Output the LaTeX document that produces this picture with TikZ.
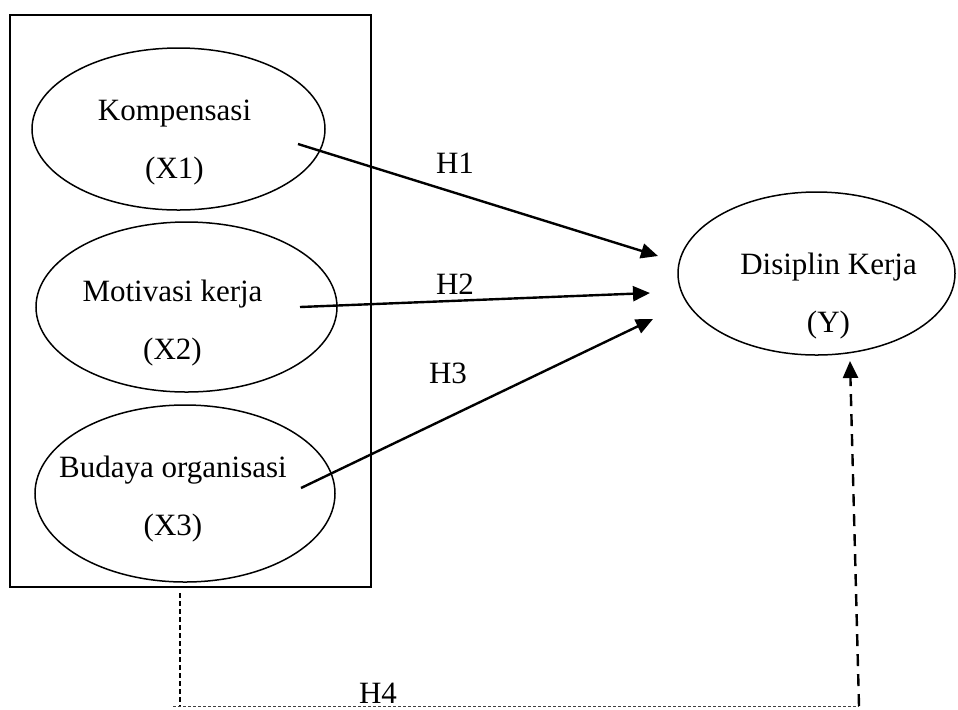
\documentclass[tikz,border=0pt]{standalone}
\usepackage{fontspec}
\setmainfont{Liberation Serif}
\usetikzlibrary{arrows.meta,positioning,shapes}
\tikzset{
model/.style={x=0.5pt,y=-0.5pt,font=\fontsize{15.5}{29}\selectfont},
variabel/.style={ellipse,draw,line width=0.75pt,inner sep=0pt},
teks/.style={align=center,inner sep=0pt},
hipotesis/.style={-{Triangle[length=8.5pt,width=7.5pt]},line width=1.2pt},
garis putus/.style={dash pattern=on 2.5pt off 1.5pt,line width=0.6pt},
garis bawah/.style={dash pattern=on 1.5pt off 1pt,line width=0.45pt,black!75},
panah putus/.style={-{Triangle[length=8.5pt,width=7.5pt]},dash pattern=on 6pt off 4pt,line width=1.2pt},
}
\begin{document}
\begin{tikzpicture}[model]
\useasboundingbox (0,0) rectangle (958,709);
% kotak variabel bebas
\draw[line width=0.7pt] (10,15) rectangle (371,587);
\node[variabel,minimum width=146.5pt,minimum height=81pt] (komp) at (178.5,129) {};
\node[variabel,minimum width=150.5pt,minimum height=85pt] (moti) at (186.5,307) {};
\node[variabel,minimum width=150pt,minimum height=88.5pt] (buda) at (185,493.5) {};
\node[variabel,minimum width=138.5pt,minimum height=81.5pt] (disi) at (816.5,273.5) {};

\node[teks,xshift=-2pt,yshift=-7pt] (kompteks) at (komp) {Kompensasi\\(X1)};
\node[teks,xshift=-7pt,yshift=-8pt] (motiteks) at (moti) {Motivasi kerja\\(X2)};
\node[teks,xshift=-6pt,yshift=-3pt] (budateks) at (buda) {Budaya organisasi\\(X3)};
\node[teks,xshift=6pt,yshift=-11.5pt] (disiteks) at (disi) {Disiplin Kerja\\(Y)};

% titik awal dan akhir panah
\coordinate (a1) at (298,144);
\coordinate (a2) at (300,307);
\coordinate (a3) at (301,488);
\coordinate (b1) at (658,256);
\coordinate (b2) at (650,293);
\coordinate (b3) at (653,319);

\draw[hipotesis] (a1) -- (b1);
\draw[hipotesis] (a2) -- (b2);
\draw[hipotesis] (a3) -- (b3);

\node (h1) at (455,163) {H1};
\node (h2) at (455,284) {H2};
\node (h3) at (448,373) {H3};

% jalur H4
\coordinate (c1) at (180,593);
\coordinate (c2) at (180,706);
\coordinate (c0) at (173,706);
\coordinate (c3) at (859,706);
\coordinate (c4) at (850,361);
\draw[garis putus] (c1) -- (c2);
\draw[garis bawah] (c0) -- (c3);
\draw[panah putus] (c3) -- (c4);
\node[anchor=south,inner sep=0pt] (h4) at (378,704) {H4};
\end{tikzpicture}
\end{document}
